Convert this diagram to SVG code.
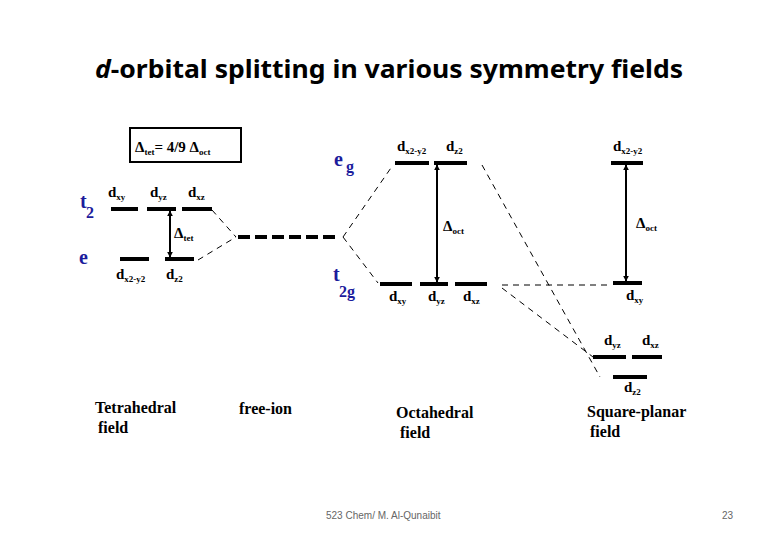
<svg xmlns="http://www.w3.org/2000/svg" width="780" height="540" viewBox="0 0 780 540">
<defs>
<marker id="ah" viewBox="0 0 10 10" refX="9" refY="5" markerWidth="6" markerHeight="7" markerUnits="userSpaceOnUse" orient="auto-start-reverse">
<path d="M0,0 L10,5 L0,10 z" fill="#000"/>
</marker>
</defs>
<style>
.lvl{stroke:#000;stroke-width:4;fill:none}
.dash{stroke:#000;stroke-width:1;stroke-dasharray:6,5;fill:none}
.arr{stroke:#000;stroke-width:2;fill:none;marker-start:url(#ah);marker-end:url(#ah)}
.d{font-family:"Liberation Serif",serif;font-weight:bold;font-size:15px;fill:#000}
.s{font-size:9px}
.blue{font-family:"Liberation Serif",serif;font-weight:bold;font-size:20px;fill:#1c1c9c}
.bs{font-size:16px}
.cap{font-family:"Liberation Serif",serif;font-weight:bold;font-size:16px;fill:#000}
.foot{font-family:"Liberation Sans",sans-serif;font-size:10px;fill:#666}
.title{font-family:"Noto Sans","Liberation Sans",sans-serif;font-weight:bold;font-size:25px;fill:#000}
</style>
<rect width="780" height="540" fill="#fff"/>
<text class="title" x="95" y="78" textLength="588" lengthAdjust="spacingAndGlyphs"><tspan font-style="italic">d</tspan>-orbital splitting in various symmetry fields</text>

<g id="box">
<rect x="130" y="128" width="111" height="34" fill="none" stroke="#000" stroke-width="2"/>
<text class="d" x="135" y="152" font-size="17">Δ<tspan class="s" dy="3">tet</tspan><tspan dy="-3">= 4/9 Δ</tspan><tspan class="s" dy="3">oct</tspan></text>
</g>

<g id="connectors">
<line class="dash" x1="212" y1="210" x2="236" y2="237"/>
<line class="dash" x1="198" y1="260" x2="236" y2="237"/>
<line class="dash" x1="343" y1="237" x2="393" y2="165"/>
<line class="dash" x1="343" y1="237" x2="378" y2="283"/>
<line class="dash" x1="482" y1="165" x2="600" y2="377"/>
<line class="dash" x1="502" y1="288" x2="593" y2="357"/>
<line class="dash" x1="502" y1="285" x2="610" y2="285" stroke-dasharray="8,5"/>
</g>

<g id="tetrahedral">
<line class="lvl" x1="111" y1="209" x2="138" y2="209"/>
<line class="lvl" x1="147" y1="209" x2="176" y2="209"/>
<line class="lvl" x1="182" y1="209" x2="212" y2="209"/>
<line class="lvl" x1="120" y1="259" x2="149" y2="259"/>
<line class="lvl" x1="165" y1="259" x2="194" y2="259"/>
<line class="arr" x1="170" y1="211" x2="170" y2="257"/>
<text class="d" x="174" y="238">Δ<tspan class="s" dy="3">tet</tspan></text>
<text class="blue" x="80" y="208">t</text><text class="blue bs" x="86" y="218">2</text>
<text class="blue" x="79" y="264">e</text>
<text class="d" x="108" y="197">d<tspan class="s" dy="3">xy</tspan></text>
<text class="d" x="150" y="197">d<tspan class="s" dy="3">yz</tspan></text>
<text class="d" x="188" y="197">d<tspan class="s" dy="3">xz</tspan></text>
<text class="d" x="116" y="279">d<tspan class="s" dy="3">x2-y2</tspan></text>
<text class="d" x="166" y="279">d<tspan class="s" dy="3">z2</tspan></text>
<text class="cap" x="95" y="413">Tetrahedral</text>
<text class="cap" x="98" y="433">field</text>
</g>

<g id="freeion">
<line class="lvl" x1="238" y1="237" x2="337" y2="237" stroke-dasharray="12,5"/>
<text class="cap" x="239" y="414">free-ion</text>
</g>

<g id="octahedral">
<line class="lvl" x1="395" y1="163" x2="429" y2="163"/>
<line class="lvl" x1="434" y1="163" x2="467" y2="163"/>
<line class="lvl" x1="380" y1="284" x2="412" y2="284"/>
<line class="lvl" x1="420" y1="284" x2="448" y2="284"/>
<line class="lvl" x1="455" y1="284" x2="487" y2="284"/>
<line class="arr" x1="437" y1="165" x2="437" y2="282"/>
<text class="d" x="443" y="231">Δ<tspan class="s" dy="3">oct</tspan></text>
<text class="blue" x="334" y="166">e</text><text class="blue bs" x="346" y="172">g</text>
<text class="blue" x="333" y="281">t</text><text class="blue bs" x="339" y="297">2g</text>
<text class="d" x="397" y="151">d<tspan class="s" dy="3">x2-y2</tspan></text>
<text class="d" x="446" y="151">d<tspan class="s" dy="3">z2</tspan></text>
<text class="d" x="389" y="301">d<tspan class="s" dy="3">xy</tspan></text>
<text class="d" x="428" y="301">d<tspan class="s" dy="3">yz</tspan></text>
<text class="d" x="463" y="301">d<tspan class="s" dy="3">xz</tspan></text>
<text class="cap" x="396" y="418">Octahedral</text>
<text class="cap" x="400" y="438">field</text>
</g>

<g id="squareplanar">
<line class="lvl" x1="611" y1="163" x2="643" y2="163"/>
<line class="lvl" x1="613" y1="283" x2="642" y2="283"/>
<line class="lvl" x1="593" y1="357" x2="626" y2="357"/>
<line class="lvl" x1="632" y1="357" x2="662" y2="357"/>
<line class="lvl" x1="613" y1="377" x2="647" y2="377"/>
<line class="arr" x1="626" y1="165" x2="626" y2="281"/>
<text class="d" x="636" y="228">Δ<tspan class="s" dy="3">oct</tspan></text>
<text class="d" x="613" y="151">d<tspan class="s" dy="3">x2-y2</tspan></text>
<text class="d" x="626" y="300">d<tspan class="s" dy="3">xy</tspan></text>
<text class="d" x="604" y="345">d<tspan class="s" dy="3">yz</tspan></text>
<text class="d" x="642" y="345">d<tspan class="s" dy="3">xz</tspan></text>
<text class="d" x="624" y="392">d<tspan class="s" dy="3">z2</tspan></text>
<text class="cap" x="587" y="417">Square-planar</text>
<text class="cap" x="590" y="437">field</text>
</g>

<text class="foot" x="326" y="519">523 Chem/ M. Al-Qunaibit</text>
<text class="foot" x="722" y="519">23</text>
</svg>
